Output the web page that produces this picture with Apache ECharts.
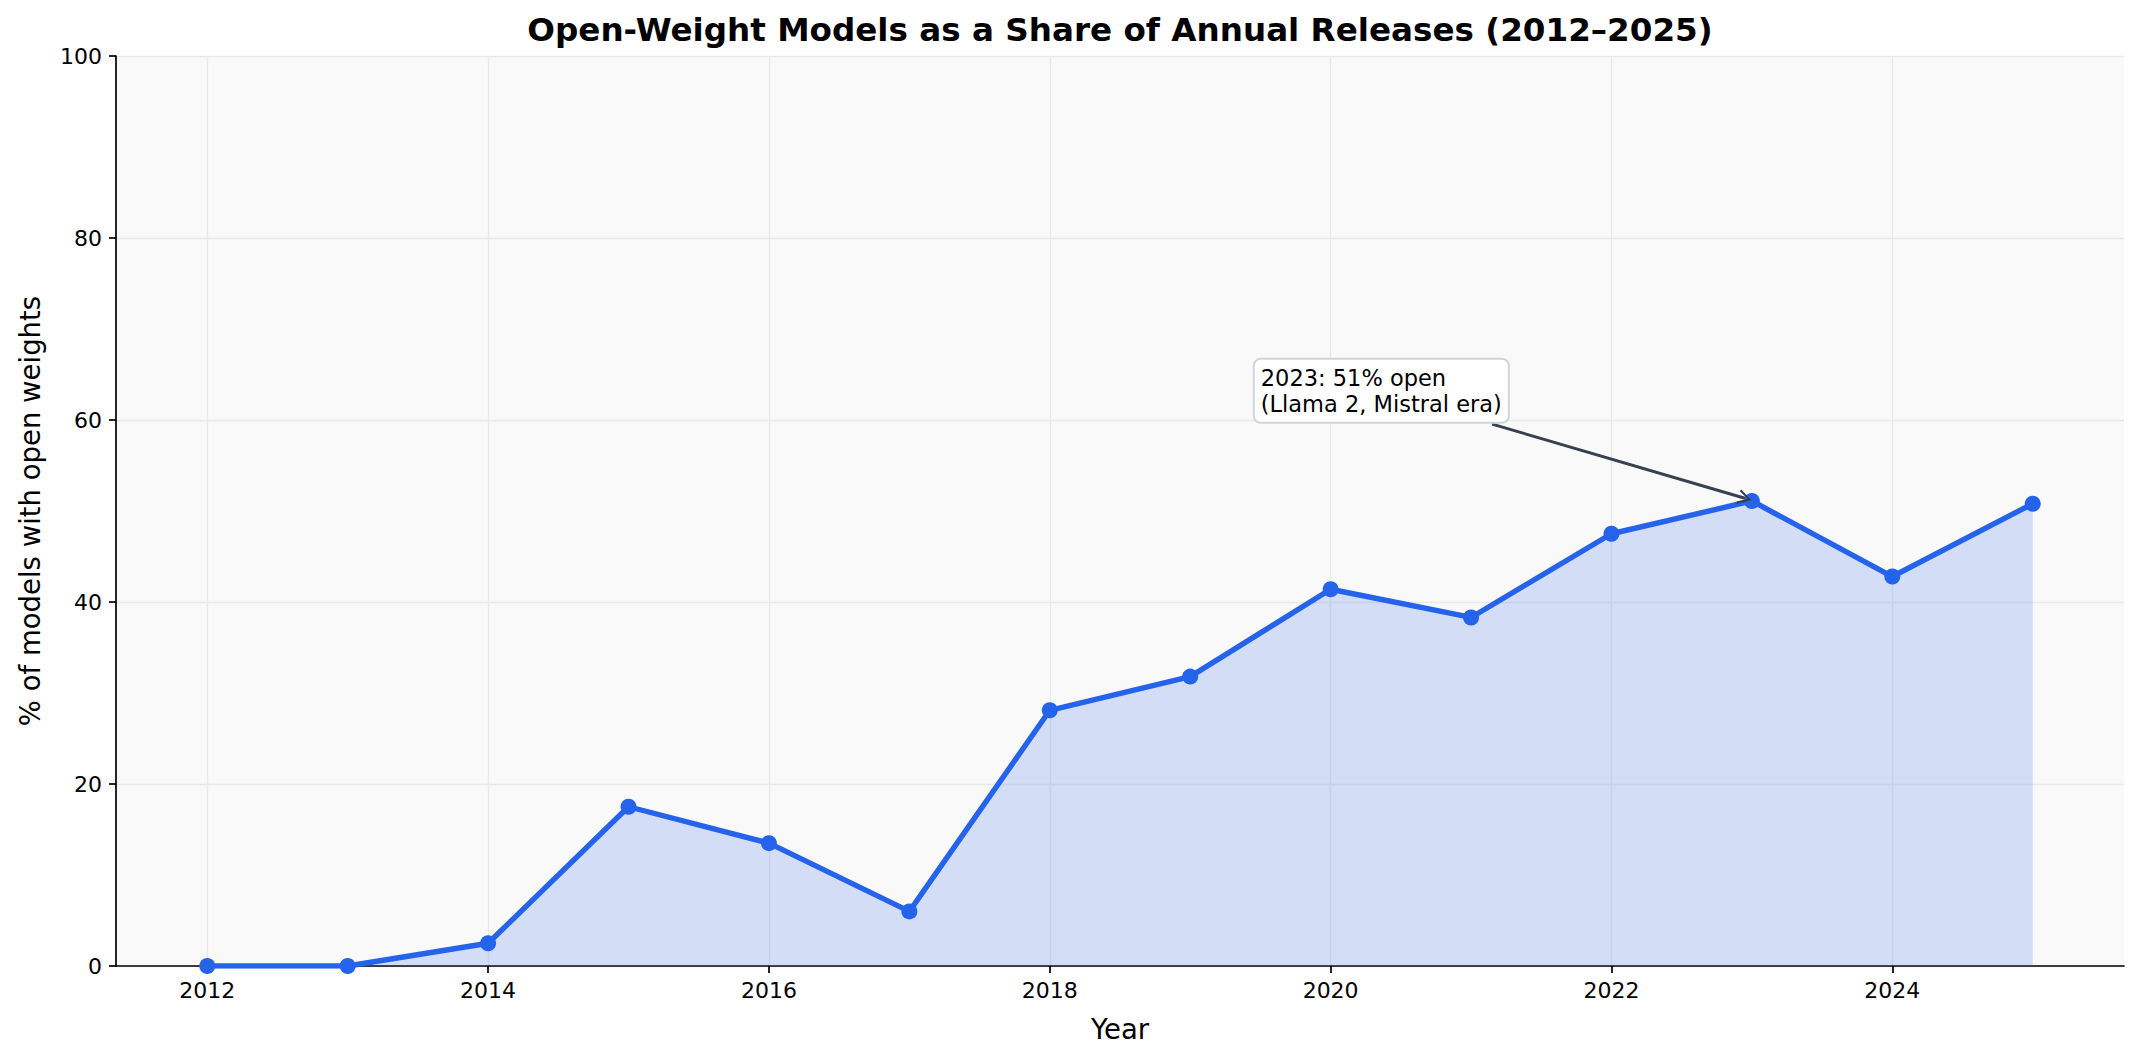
<!DOCTYPE html>
<html>
<head>
<meta charset="utf-8">
<script src="https://cdn.jsdelivr.net/npm/echarts@6/dist/echarts.min.js"></script>
<style>
html,body{margin:0;padding:0;background:#fff;}
#chart{width:2142px;height:1062px;}
</style>
</head>
<body>
<div id="chart"></div>
<script>
// ---- data ----
var years = [2012, 2013, 2014, 2015, 2016, 2017, 2018, 2019, 2020, 2021, 2022, 2023, 2024, 2025];
var openShare = [0.0, 0.0, 2.5, 17.5, 13.5, 6.0, 28.1, 31.8, 41.4, 38.3, 47.5, 51.1, 42.8, 50.8];
var xTickValues = [2012, 2014, 2016, 2018, 2020, 2022, 2024];
var yTickValues = [0, 20, 40, 60, 80, 100];
var titleText = 'Open-Weight Models as a Share of Annual Releases (2012\u20132025)';
var xLabel = 'Year';
var yLabel = '% of models with open weights';
var annotationText = '2023: 51% open\n(Llama 2, Mistral era)';
var annotationTextPos = [2019.46, 59.8];   // data coords of box's lower-left corner
var annotationArrowFrom = [2021.15, 59.55];
var annotationTarget = [2022.95, 51.4];

var FONT = 'DejaVu Sans';
var chart = echarts.init(document.getElementById('chart'), null, {renderer: 'svg'});

var seriesData = years.map(function (y, i) { return [y, openShare[i]]; });

var option = {
  animation: false,
  backgroundColor: '#ffffff',
  textStyle: {fontFamily: FONT},
  title: {
    text: titleText,
    left: 1115,
    top: 8,
    textAlign: 'center',
    textStyle: {fontFamily: FONT, fontSize: 32.6, fontWeight: 'bold', color: '#000'}
  },
  grid: {
    left: 116, right: 18, top: 56, bottom: 96,
    show: true, backgroundColor: '#f9f9f9', borderWidth: 0
  },
  xAxis: {
    type: 'value',
    min: 2011.35,
    max: 2025.65,
    name: xLabel,
    nameLocation: 'middle',
    nameGap: 49,
    nameTextStyle: {fontFamily: FONT, fontSize: 27.5, color: '#000'},
    axisLine: {show: true, onZero: false, lineStyle: {color: '#000', width: 1.7}},
    axisTick: {show: true, customValues: xTickValues, length: 7, lineStyle: {color: '#000', width: 1.7}},
    axisLabel: {
      customValues: xTickValues, margin: 13, color: '#000', fontSize: 22, fontFamily: FONT,
      formatter: function (v) { return String(v); }
    },
    splitLine: {show: true, lineStyle: {color: '#e9e9ec', width: 1.4}}
  },
  yAxis: {
    type: 'value',
    min: 0,
    max: 100,
    interval: 20,
    name: yLabel,
    nameLocation: 'middle',
    nameGap: 72,
    nameRotate: 90,
    nameTextStyle: {fontFamily: FONT, fontSize: 27.5, color: '#000'},
    axisLine: {show: true, lineStyle: {color: '#000', width: 1.7}},
    axisTick: {show: true, length: 7, lineStyle: {color: '#000', width: 1.7}},
    axisLabel: {margin: 14, color: '#000', fontSize: 22, fontFamily: FONT},
    splitLine: {show: true, lineStyle: {color: '#e9e9ec', width: 1.4}}
  },
  series: [{
    type: 'line',
    data: seriesData,
    symbol: 'circle',
    symbolSize: 16,
    showAllSymbol: true,
    lineStyle: {color: '#2563eb', width: 5.4, join: 'round'},
    itemStyle: {color: '#2563eb'},
    areaStyle: {color: 'rgba(37,99,235,0.18)', opacity: 1, origin: 'start'},
    z: 3,
    markPoint: {
      silent: true,
      symbol: 'rect',
      symbolSize: 0.1,
      itemStyle: {color: 'rgba(0,0,0,0)'},
      data: [{
        coord: annotationTextPos,
        label: {
          show: true,
          formatter: annotationText,
          position: [0, 0],
          align: 'left',
          verticalAlign: 'bottom',
          fontFamily: FONT,
          fontSize: 22.5,
          lineHeight: 26,
          color: '#000',
          backgroundColor: '#ffffff',
          borderColor: '#d1d5db',
          borderWidth: 2,
          borderRadius: 6,
          padding: [5, 6, 5, 6]
        }
      }]
    },
    markLine: {
      silent: true,
      symbol: ['none', 'path://M0,10 L5,0 L10,10 L8.6,10.8 L5,3.2 L1.4,10.8 Z'],
      symbolSize: [15, 14],
      label: {show: false},
      lineStyle: {color: '#374151', width: 3, type: 'solid'},
      data: [[{coord: annotationArrowFrom}, {coord: annotationTarget}]]
    }
  }]
};
chart.setOption(option);
</script>
</body>
</html>
